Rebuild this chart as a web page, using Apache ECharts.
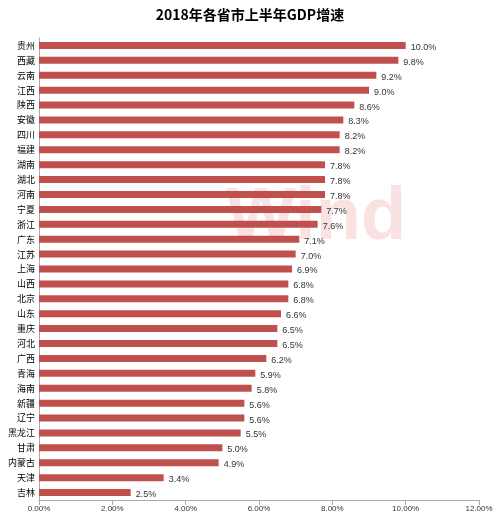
<!DOCTYPE html><html><head><meta charset="utf-8"><script src="https://cdn.jsdelivr.net/npm/echarts@6/dist/echarts.min.js"></script></head><body style="margin:0"><div id="c" style="width:500px;height:519px"></div><script>
const categories=['贵州','西藏','云南','江西','陕西','安徽','四川','福建','湖南','湖北','河南','宁夏','浙江','广东','江苏','上海','山西','北京','山东','重庆','河北','广西','青海','海南','新疆','辽宁','黑龙江','甘肃','内蒙古','天津','吉林'];
const values=[10.0,9.8,9.2,9.0,8.6,8.3,8.2,8.2,7.8,7.8,7.8,7.7,7.6,7.1,7.0,6.9,6.8,6.8,6.6,6.5,6.5,6.2,5.9,5.8,5.6,5.6,5.5,5.0,4.9,3.4,2.5];
const chart=echarts.init(document.getElementById('c'));
chart.setOption({
 title:{text:'2018年各省市上半年GDP增速',left:'center',top:3,textStyle:{fontFamily:'Noto Sans CJK SC',fontWeight:'bold',fontSize:14,color:'#000'}},
 graphic:[{type:'text',left:226,top:182,z:-1,style:{text:'Wind',fontSize:74,fontWeight:'bold',fontFamily:'Arial',fill:'rgba(235,140,140,0.25)'}}],
 grid:{left:39,right:21,top:38,bottom:19},
 xAxis:{type:'value',min:0,max:12,interval:2,splitLine:{show:false},axisLine:{show:true,lineStyle:{color:'#aaa'}},axisTick:{show:true,lineStyle:{color:'#aaa'}},axisLabel:{formatter:v=>v.toFixed(2)+'%',fontSize:8,color:'#333',margin:5}},
 yAxis:{type:'category',inverse:true,data:categories,axisLine:{lineStyle:{color:'#aaa'}},axisTick:{lineStyle:{color:'#aaa'}},axisLabel:{fontSize:9,color:'#000',margin:4,fontFamily:'Noto Sans CJK SC'}},
 series:[{type:'bar',data:values,barWidth:7,itemStyle:{color:'#c0504d'},label:{show:true,position:'right',offset:[0,2],fontSize:9,color:'#333',formatter:p=>p.value.toFixed(1)+'%'}}]
});
</script></body></html>
